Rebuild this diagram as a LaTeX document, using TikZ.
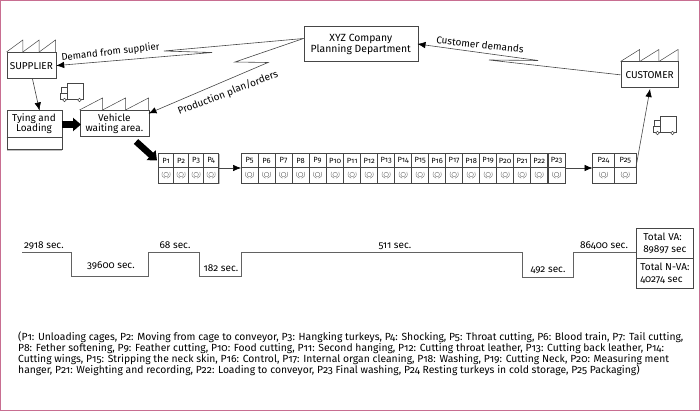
\documentclass[tikz,border=0pt]{standalone}
\usepackage{fontspec}
\setmainfont[Numbers=OldStyle]{Fira Sans}
\usetikzlibrary{arrows.meta}
\definecolor{frame}{RGB}{200,110,145}
\definecolor{ink}{RGB}{70,70,70}
\tikzset{
  x=1pt,y=-1pt,
  lbl/.style={font=\fontsize{10}{11}\selectfont,text=black,inner sep=0pt,align=center},
  box/.style={draw=ink,line width=.7pt,fill=white,inner sep=0pt},
  conn/.style={draw=ink,line width=.6pt,-{Latex[length=8pt,width=6.5pt,black]}},
  fat/.style={draw=black,line width=6.5pt,-{Triangle[length=8pt,width=13pt,black]}},
  pnum/.style={font=\fontsize{7.5}{8}\selectfont,text=black,inner sep=0pt},
  roof/.style={draw=ink,line width=.5pt,fill=white},
  timeline/.style={draw=ink!85,line width=.9pt},
  sym/.style={draw=ink!75,line width=.4pt},
  totalbox/.style={box,minimum width=57pt,minimum height=30pt,anchor=north west,font=\fontsize{10}{11.5}\selectfont,text=black,align=left},
}
\newcommand{\factoryroof}[3]{% left x, base y, width
  \pgfmathsetmacro{\w}{#3/3}
  \foreach \i in {0,1,2}{
    \pgfmathsetmacro{\xa}{#1+\i*\w}
    \pgfmathsetmacro{\xb}{\xa+\w}
    \draw[roof] (\xa,#2) -- (\xb,#2-12) -- (\xb,#2);
  }
}
\newcommand{\truck}[2]{% left x, top y
  \draw[roof,line width=.6pt] (#1+6.5,#2) rectangle (#1+23,#2+16);
  \draw[roof,line width=.6pt] (#1+1,#2+4.5) -- (#1+6.5,#2+4.5) -- (#1+6.5,#2+16) -- (#1,#2+16) -- (#1,#2+10) -- (#1+1,#2+10) -- cycle;
  \draw[roof] (#1,#2+10) -- (#1+6.5,#2+10);
  \draw[roof] (#1+4,#2+17) circle (1.8);
  \draw[roof] (#1+19,#2+17) circle (1.8);
}
\newcommand{\proc}[3]{% left x, width, label
  \draw[ink!35,line width=.9pt] (#1+.8,183.7) -- (#1+#2+.7,183.7) -- (#1+#2+.7,154.5);
  \draw[box,line width=.6pt] (#1,153.5) rectangle (#1+#2,183);
  \draw[ink,line width=.6pt] (#1,167.5) -- (#1+#2,167.5);
  \node[pnum] at (#1+#2/2,160.5) {#3};
  \draw[sym] (#1+#2/2,174.5) circle (2.3);
  \draw[sym] (#1+#2/2-3.6,171.8) .. controls (#1+#2/2-5,175.5) and (#1+#2/2-3.6,177.8) .. (#1+#2/2-1,178.2);
  \draw[sym] (#1+#2/2+3.6,171.8) .. controls (#1+#2/2+5,175.5) and (#1+#2/2+3.6,177.8) .. (#1+#2/2+1,178.2);
}
\begin{document}
\begin{tikzpicture}
\useasboundingbox (0,0) rectangle (700,411);
\draw[frame,line width=1pt] (.5,.5) rectangle (699,410.5);

% factories
\factoryroof{6.5}{52}{49}
\node[box,minimum width=49pt,minimum height=26.5pt,anchor=north west,lbl] (sup) at (6.5,52) {SUPPLIER};
\factoryroof{79.5}{110}{69}
\node[box,minimum width=69pt,minimum height=26pt,anchor=north west,lbl] (veh) at (79.5,110) {Vehicle\\[-1pt]waiting area.};
\factoryroof{620.5}{61.5}{57.5}
\node[box,minimum width=57.5pt,minimum height=26pt,anchor=north west,lbl] (cus) at (620.5,61.5) {CUSTOMER};

% Tying and loading
\node[box,minimum width=55pt,minimum height=39pt,anchor=north west] (tie) at (6.5,110.5) {};
\draw[ink,line width=.7pt] (6.5,137) -- (61.5,137);
\draw[ink!35,line width=.9pt] (7,150.2) -- (62,150.2);
\node[lbl] (tietxt) at (34,123.5) {Tying and\\[-1pt]Loading};

% planning
\node[box,minimum width=114pt,minimum height=35pt,anchor=north west,lbl,font=\fontsize{10.4}{11}\selectfont] (plan) at (303.5,26.5) {XYZ Company\\[-.5pt]Planning Department};

% trucks
\truck{60.5}{83}
\truck{653.5}{116}

% connectors
\coordinate (d1) at (164,51);
\coordinate (d2) at (212,52.5);
\coordinate (pw) at (303.5,38.5);
\draw[conn] (pw) -- (d1) -- (d2) -- (sup.east);
\coordinate (p1) at (235,62);
\coordinate (p2) at (268,62.5);
\coordinate (vr) at (148.5,113.5);
\draw[conn] (pw) -- (p1) -- (p2) -- (vr);
\coordinate (c1) at (489,60);
\coordinate (c2) at (538,60.5);
\coordinate (pe) at (417.5,44);
\draw[conn] (cus.west) -- (c1) -- (c2) -- (pe);
\coordinate (s1) at (32.5,79);
\coordinate (t1) at (39.5,110.5);
\draw[conn] (s1) -- (t1);
\coordinate (g1) at (61.5,124.5);
\coordinate (g2) at (81,124.5);
\draw[fat] (g1) -- (g2);
\coordinate (f1) at (136,141.5);
\coordinate (f2) at (157,160.5);
\draw[fat] (f1) -- (f2);

% processes
\foreach \i [count=\n from 1] in {158.5,173.5,188.5,203.5}{\proc{\i}{15.2}{P\n}}
\foreach \i [count=\n from 5] in {241,258,275,292,309,326.6,343.6,360.6,377.6,394.6,411.6,428.6,445.6,462.6,479.6,496.6,513.6,530.6,548}{\proc{\i}{17.1}{P\n}}
\proc{592.5}{22}{P24}
\proc{614.5}{21.5}{P25}
\coordinate (a1) at (218.7,168);
\coordinate (a2) at (241,168);
\draw[conn] (a1) -- (a2);
\coordinate (a3) at (565.1,168);
\coordinate (a4) at (592.5,168);
\draw[conn] (a3) -- (a4);
\coordinate (a5) at (636,167);
\coordinate (a6) at (650,89);
\draw[conn] (a5) -- (a6);

% labels
\node[lbl,rotate=6.5,font=\fontsize{9.7}{11}\selectfont] at (110.5,52.5) {Demand from supplier};
\node[lbl,rotate=21] at (228,93) {Production plan/orders};
\node[lbl,rotate=-6.3] at (480,44.5) {Customer demands};

% timeline
\draw[timeline] (22,252.7) -- (71.5,252.7) -- (71.5,276) -- (148,276) -- (148,252.7) -- (199.5,252.7) -- (199.5,276) -- (241.5,276) -- (241.5,252.7) -- (522.3,252.7) -- (522.3,277) -- (573,277) -- (573,252.7) -- (636,252.7);
\node[lbl] at (44,245.5) {2918 sec.};
\node[lbl] at (111,265.5) {39600 sec.};
\node[lbl] at (175,245.5) {68 sec.};
\node[lbl] at (221,268) {182 sec.};
\node[lbl] at (395,246.5) {511 sec.};
\node[lbl] at (548,270.5) {492 sec.};
\node[lbl] at (604,245.5) {86400 sec.};

% totals
\node[totalbox] (va) at (636,228) {Total VA:\\89897 sec};
\node[totalbox] (nva) at (636,258) {Total N-VA:\\40274 sec};

% legend
\node[lbl,anchor=north west,align=left,font=\fontsize{10.35}{10.8}\selectfont] (legend) at (18,331.5) {(P1: Unloading cages, P2: Moving from cage to conveyor, P3: Hangking turkeys, P4: Shocking, P5: Throat cutting, P6: Blood train, P7: Tail cutting,\\
P8: Fether softening, P9: Feather cutting, P10: Food cutting, P11: Second hanging, P12: Cutting throat leather, P13: Cutting back leather, P14:\\
Cutting wings, P15: Stripping the neck skin, P16: Control, P17: Internal organ cleaning, P18: Washing, P19: Cutting Neck, P20: Measuring ment\\
hanger, P21: Weighting and recording, P22: Loading to conveyor, P23 Final washing, P24 Resting turkeys in cold storage, P25 Packaging)};
\end{tikzpicture}
\end{document}
